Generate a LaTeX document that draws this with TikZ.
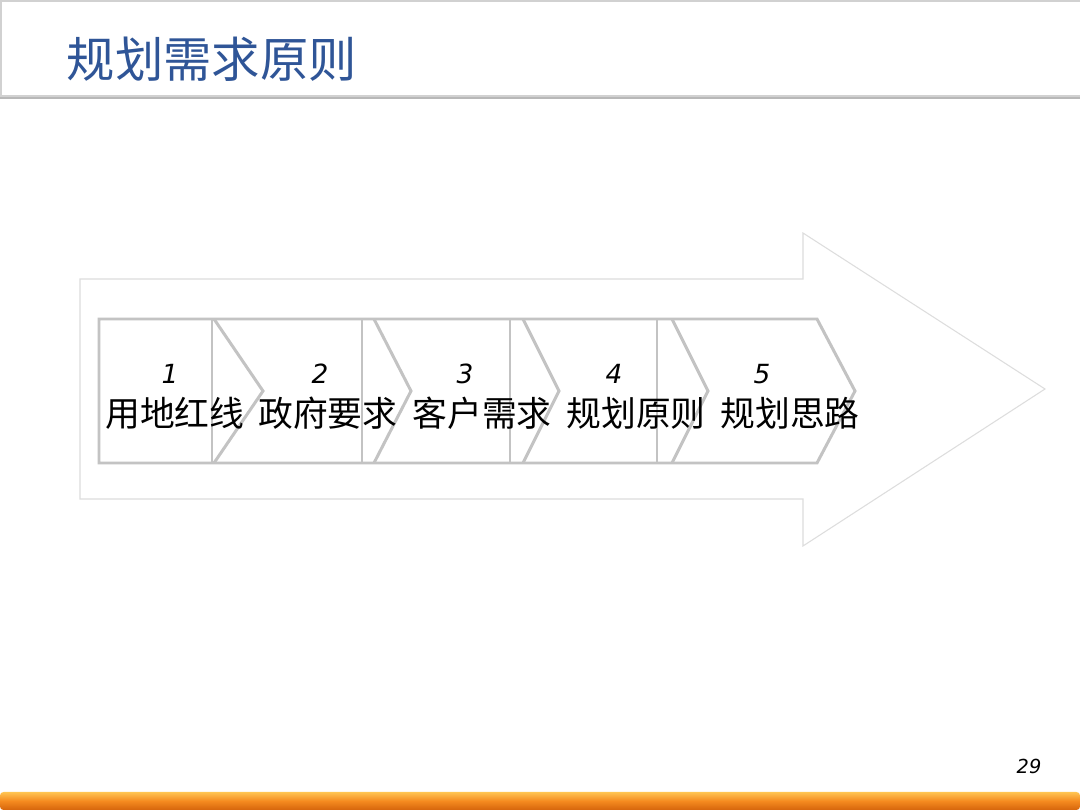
\documentclass[tikz,border=0pt]{standalone}
\usepackage{fontspec}
\usepackage{tikz}
\setmainfont{Noto Sans CJK SC}
\newfontfamily\numfont{DejaVu Sans}
\definecolor{titleblue}{HTML}{2F5597}
\definecolor{chevgray}{HTML}{C3C3C3}
\definecolor{arrowgray}{HTML}{DDDDDD}
\definecolor{barlight}{HTML}{FFC552}
\definecolor{barmid}{HTML}{F58A1F}
\definecolor{bardark}{HTML}{D5650C}

\begin{document}
\begin{tikzpicture}[x=0.02cm, y=-0.02cm]
\tikzset{inner sep=0pt, outer sep=0pt}
\tikzset{chev/.style={draw=chevgray, line width=1.7pt, line join=miter}}
\tikzset{steplabel/.style={font=\fontsize{19.8}{22}\selectfont, anchor=center}}
\tikzset{stepnum/.style={font=\numfont\itshape\fontsize{15}{17}\selectfont, anchor=center}}

\useasboundingbox (0,0) rectangle (1080,810);
\fill [white] (0,0) rectangle (1080,810);

% header
\fill [black!28] (0,3) rectangle (1080,99);
\draw [fill=white, draw=black!18, line width=0.6pt] (1,1) rectangle (1081,96);
\node [anchor=west, text=titleblue, font=\fontsize{27.5}{31}\selectfont] (title) at (67,59) {规划需求原则};

% big background arrow
\draw [draw=arrowgray, line width=0.6pt, fill=white]
  (80,279) -- (803,279) -- (803,233) -- (1045,389) -- (803,546) -- (803,499) -- (80,499) -- cycle;

% chevron row
\draw [chev] (99,319) -- (817,319) -- (855,391) -- (817,463) -- (99,463) -- cycle;
\draw [chev] (212,319) -- (212,463);
\draw [chev] (362,319) -- (362,463);
\draw [chev] (510,319) -- (510,463);
\draw [chev] (657,319) -- (657,463);
\draw [chev] (214,319) -- (263,391) -- (214,463);
\draw [chev] (374,319) -- (411,391) -- (374,463);
\draw [chev] (523,319) -- (559,391) -- (523,463);
\draw [chev] (672,319) -- (708,391) -- (672,463);

\node [stepnum] (num1) at (170,374) {1};
\node [stepnum] (num2) at (320,374) {2};
\node [stepnum] (num3) at (465,374) {3};
\node [stepnum] (num4) at (614,374) {4};
\node [stepnum] (num5) at (762,374) {5};

\node [steplabel] (lab1) at (175,413) {用地红线};
\node [steplabel] (lab2) at (328,413) {政府要求};
\node [steplabel] (lab3) at (482,413) {客户需求};
\node [steplabel] (lab4) at (636,413) {规划原则};
\node [steplabel] (lab5) at (790,413) {规划思路};

% footer
\node [font=\numfont\itshape\fontsize{11}{13}\selectfont] (page) at (1029,766) {29};
\shade [top color=barlight, bottom color=bardark, middle color=barmid, rounded corners=2pt]
  (0,792) rectangle (1080,810);

\end{tikzpicture}
\end{document}
